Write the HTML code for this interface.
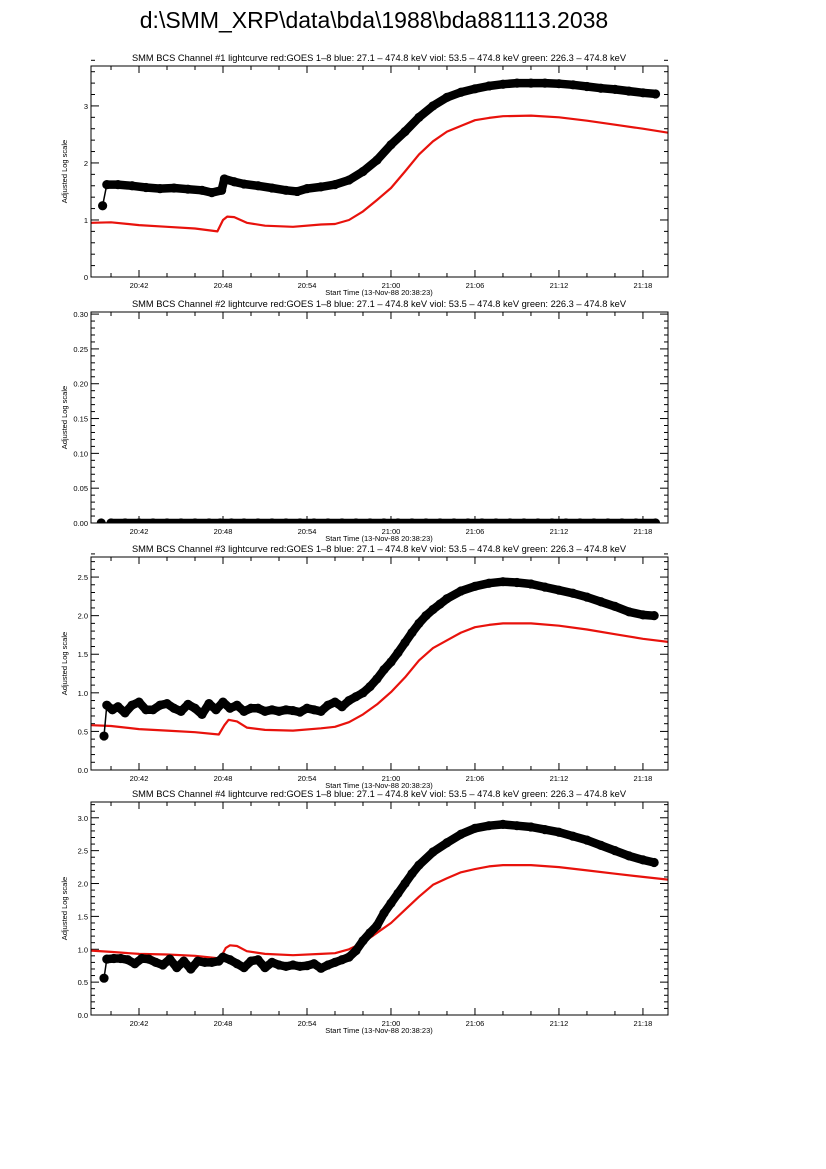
<!DOCTYPE html>
<html><head><meta charset="utf-8">
<style>
body{margin:0;background:#fff;}
svg{display:block;font-family:"Liberation Sans",sans-serif;}
</style></head>
<body>
<svg id="fig" width="826" height="1169" viewBox="0 0 826 1169">
<text x="374" y="28" font-size="23" text-anchor="middle">d:\SMM_XRP\data\bda\1988\bda881113.2038</text>
</svg>
<script>
// ---- data (time in minutes after 20:00) ----
const xTickLabels = ["20:42","20:48","20:54","21:00","21:06","21:12","21:18"];
const xTickMinutes = [42,48,54,60,66,72,78];

const ch1Times = [39.4,39.7,40.5,41.5,42.5,43.5,44.5,45.5,46.5,47.2,47.9,48.1,48.8,49.5,50.5,51.5,52.5,53.3,54,55,56,57,58,59,60,61,62,63,64,65,66,67,68,69,70,71,72,73,74,75,76,77,78,78.9];
const ch1Values = [1.25,1.62,1.62,1.60,1.57,1.55,1.56,1.54,1.52,1.48,1.52,1.72,1.67,1.63,1.60,1.56,1.52,1.50,1.55,1.58,1.62,1.70,1.85,2.05,2.32,2.55,2.80,3.00,3.15,3.24,3.30,3.35,3.38,3.40,3.40,3.40,3.39,3.37,3.34,3.31,3.29,3.26,3.23,3.21];
const goes1Times = [38.6,40,42,44,46,47.6,48,48.3,48.8,49.7,51,53,55,56,57,58,59,60,61,62,63,64,65,66,67,68,70,72,74,76,78,79.8];
const goes1Values = [0.95,0.96,0.91,0.88,0.85,0.80,1.00,1.06,1.05,0.95,0.90,0.88,0.92,0.93,1.00,1.15,1.35,1.56,1.85,2.15,2.38,2.55,2.65,2.75,2.79,2.82,2.83,2.80,2.74,2.67,2.60,2.53];

const ch2Times = [39.3,40,41,42,43,44,45,46,47,47.8,48.6,49.5,50.5,51.5,52.5,53.5,54.5,55.5,56.5,57.5,58.5,59.5,60.5,61.5,62.5,63.5,64.5,65.5,66.5,67.5,68.5,69.5,70.5,71.5,72.5,73.5,74.5,75.5,76.5,77.5,78.9];
const ch2Values = [0,0,0,0,0,0,0,0,0,0,0,0,0,0,0,0,0,0,0,0,0,0,0,0,0,0,0,0,0,0,0,0,0,0,0,0,0,0,0,0,0];

const ch3Times = [39.5,39.7,40.1,40.5,41,41.5,42,42.5,43,43.5,44,44.5,45,45.5,46,46.5,47,47.5,48,48.5,49,49.5,50,50.5,51,51.5,52,52.5,53,53.5,54,54.5,55,55.5,56,56.5,57,57.5,58,58.5,59,59.5,60,60.5,61,61.5,62,62.5,63,63.5,64,65,66,67,68,69,70,71,72,73,74,75,76,77,78,78.8];
const ch3Values = [0.44,0.84,0.78,0.82,0.74,0.84,0.88,0.78,0.78,0.84,0.86,0.80,0.76,0.85,0.80,0.72,0.86,0.78,0.88,0.80,0.84,0.76,0.80,0.80,0.76,0.78,0.76,0.78,0.77,0.75,0.80,0.78,0.76,0.84,0.88,0.82,0.90,0.95,1.00,1.08,1.18,1.30,1.40,1.52,1.65,1.78,1.90,2.00,2.08,2.15,2.22,2.32,2.38,2.42,2.44,2.43,2.41,2.37,2.33,2.29,2.24,2.18,2.12,2.05,2.01,2.00];
const goes3Times = [38.6,40,42,44,46,47.7,48.1,48.4,49,49.7,51,53,55,56,57,58,59,60,61,62,63,64,65,66,67,68,70,72,74,76,78,79.8];
const goes3Values = [0.58,0.57,0.53,0.51,0.49,0.46,0.58,0.65,0.63,0.55,0.52,0.51,0.54,0.56,0.62,0.72,0.85,1.01,1.20,1.42,1.58,1.68,1.78,1.85,1.88,1.90,1.90,1.87,1.82,1.76,1.70,1.66];

const ch4Times = [39.5,39.7,40.2,40.7,41.2,41.7,42.2,42.7,43.2,43.7,44.2,44.7,45.2,45.7,46.2,46.7,47.2,47.7,48,48.5,49,49.5,50,50.5,51,51.5,52,52.5,53,53.5,54,54.5,55,55.5,56,56.5,57,57.5,58,58.5,59,59.5,60,60.5,61,61.5,62,63,64,65,66,67,68,69,70,71,72,73,74,75,76,77,78,78.8];
const ch4Values = [0.56,0.85,0.86,0.86,0.84,0.78,0.86,0.85,0.80,0.76,0.85,0.72,0.82,0.70,0.82,0.80,0.80,0.82,0.88,0.84,0.78,0.72,0.82,0.84,0.72,0.80,0.76,0.74,0.76,0.74,0.75,0.78,0.71,0.76,0.80,0.84,0.88,0.98,1.13,1.25,1.36,1.55,1.70,1.85,2.00,2.15,2.28,2.48,2.62,2.75,2.84,2.88,2.90,2.88,2.86,2.82,2.78,2.72,2.66,2.58,2.50,2.42,2.36,2.32];
const goes4Times = [38.6,40,42,44,46,47.8,48.2,48.5,49,49.7,51,53,55,56,57,58,59,60,61,62,63,64,65,66,67,68,70,72,74,76,78,79.8];
const goes4Values = [0.98,0.96,0.93,0.92,0.90,0.86,1.02,1.06,1.05,0.97,0.93,0.91,0.93,0.94,1.00,1.10,1.25,1.40,1.60,1.80,1.98,2.08,2.17,2.22,2.26,2.28,2.28,2.25,2.20,2.15,2.10,2.06];

const yTicks1 = [0,1,2,3], yLabels1 = ["0","1","2","3"];
const yTicks2 = [0,0.05,0.10,0.15,0.20,0.25,0.30], yLabels2 = ["0.00","0.05","0.10","0.15","0.20","0.25","0.30"];
const yTicks3 = [0,0.5,1,1.5,2,2.5], yLabels3 = ["0.0","0.5","1.0","1.5","2.0","2.5"];
const yTicks4 = [0,0.5,1,1.5,2,2.5,3], yLabels4 = ["0.0","0.5","1.0","1.5","2.0","2.5","3.0"];

// ---- drawing ----
const NS = "http://www.w3.org/2000/svg";
const svg = document.getElementById("fig");
const X0 = 91, X1 = 668, TMIN = 38.57, TMAX = 79.79;
function xs(t){ return X0 + (t - TMIN) / (TMAX - TMIN) * (X1 - X0); }
function mk(tag, attrs, parent){
  const e = document.createElementNS(NS, tag);
  for (const k in attrs) e.setAttribute(k, attrs[k]);
  (parent || svg).appendChild(e);
  return e;
}
const SUB = "SMM BCS Channel #N lightcurve  red:GOES 1\u20138  blue: 27.1 \u2013 474.8 keV  viol: 53.5 \u2013 474.8 keV  green: 226.3 \u2013 474.8 keV";

function panel(n, top, bot, ymax, minorStep, yT, yL, bt, bv, gt, gv){
  const g = mk("g", {});
  
  
  const ys = v => bot - v / ymax * (bot - top);
  const cid = "clip" + n;
  const cp = mk("clipPath", {id: cid}, g);
  mk("rect", {x: X0, y: top, width: X1 - X0, height: bot - top}, cp);

  const ttl = mk("text", {x: 379, y: top - 5, "font-size": 9.3, "text-anchor": "middle"}, g);
  ttl.textContent = SUB.replace("#N", "#" + n);
  
  

  for (let t = 40; t <= 79; t += 2){
    const x = xs(t);
    const major = xTickMinutes.indexOf(t) >= 0;
    const L = major ? 7 : 4;
    mk("line", {x1: x, x2: x, y1: bot, y2: bot - L, stroke: "#000", "stroke-width": 1}, g);
    mk("line", {x1: x, x2: x, y1: top, y2: top + L, stroke: "#000", "stroke-width": 1}, g);
  }
  xTickMinutes.forEach((t, i) => {
    const tl = mk("text", {x: xs(t), y: bot + 11, "font-size": 7.5, "text-anchor": "middle"}, g);
    tl.textContent = xTickLabels[i];
    
    
  });
  const xt = mk("text", {x: 379, y: bot + 18, "font-size": 7.5, "text-anchor": "middle"}, g);
  xt.textContent = "Start Time (13-Nov-88 20:38:23)";
  
  

  const nMinor = Math.round(ymax / minorStep);
  for (let i = 0; i <= nMinor; i++){
    const v = i * minorStep;
    const y = ys(v);
    const major = yT.some(m => Math.abs(m - v) < minorStep / 10);
    const L = major ? 8 : 4;
    mk("line", {x1: X0, x2: X0 + L, y1: y, y2: y, stroke: "#000", "stroke-width": 1}, g);
    mk("line", {x1: X1, x2: X1 - L, y1: y, y2: y, stroke: "#000", "stroke-width": 1}, g);
  }
  yT.forEach((v, i) => {
    const yl = mk("text", {x: X0 - 3, y: ys(v) + 3, "font-size": 7.5, "text-anchor": "end"}, g);
    yl.textContent = yL[i];
    
    
  });
  const yc = (top + bot) / 2;
  const ya = mk("text", {x: 0, y: 0, "font-size": 7.5, "text-anchor": "middle", transform: "translate(" + (X0 - 24) + "," + yc + ") rotate(-90)"}, g);
  ya.textContent = "Adjusted Log scale";
  
  

  const plot = mk("g", {"clip-path": "url(#" + cid + ")"}, g);
  if (gt){
    const pts = gt.map((t, i) => xs(t).toFixed(1) + "," + ys(gv[i]).toFixed(1)).join(" ");
    const rl = mk("polyline", {points: pts, fill: "none", stroke: "#e8120c", "stroke-width": 2.2, "stroke-linejoin": "round"}, plot);
    
    
  }
  const bpts = bt.map((t, i) => xs(t).toFixed(1) + "," + ys(bv[i]).toFixed(1)).join(" ");
  const bl = mk("polyline", {points: bpts, fill: "none", stroke: "#000", "stroke-width": 1.5}, plot);
  
  
  const firstDense = 1;
  const band = bt.slice(firstDense).map((t, i) => xs(t).toFixed(1) + "," + ys(bv[i + firstDense]).toFixed(1)).join(" ");
  const bb = mk("polyline", {points: band, fill: "none", stroke: "#000", "stroke-width": 8.5, "stroke-linejoin": "round", "stroke-linecap": "round"}, plot);
  
  
  bt.forEach((t, i) => {
    const c = mk("circle", {cx: xs(t), cy: ys(bv[i]), r: 4.6, fill: "#000"}, plot);
    
    
  });

  const fr = mk("rect", {x: X0, y: top, width: X1 - X0, height: bot - top, fill: "none", stroke: "#000", "stroke-width": 1}, g);
  
  
}

panel(1, 66, 277, 3.7, 0.2, yTicks1, yLabels1, ch1Times, ch1Values, goes1Times, goes1Values);
panel(2, 312, 523, 0.303, 0.01, yTicks2, yLabels2, ch2Times, ch2Values, null, null);
panel(3, 557, 770, 2.76, 0.1, yTicks3, yLabels3, ch3Times, ch3Values, goes3Times, goes3Values);
panel(4, 802, 1015, 3.24, 0.1, yTicks4, yLabels4, ch4Times, ch4Values, goes4Times, goes4Values);
</script>
</body></html>
